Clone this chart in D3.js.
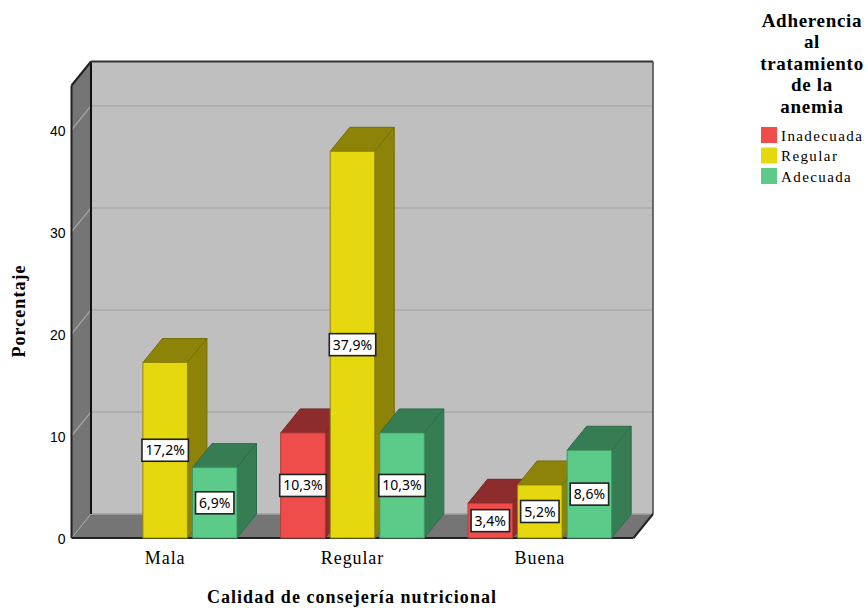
<!DOCTYPE html>
<html lang='en'>
<head>
  <meta charset='UTF-8'>
  <title>Calidad de consejería nutricional</title>
  <style>
  body {
    margin: 0;
    background: #fff;
  }
  svg {
    display: block;
  }
  text {
    font-family: 'Liberation Serif', serif;
    fill: #000;
  }
  .tick text {
    font-family: 'Liberation Sans', sans-serif;
    font-size: 14px;
  }
  .cat {
    font-size: 18px;
    letter-spacing: 0.9px;
  }
  .title {
    font-size: 18px;
    font-weight: bold;
    letter-spacing: 1.05px;
  }
  .legend-title {
    font-size: 19px;
    font-weight: bold;
    letter-spacing: 0.7px;
  }
  .legend-item {
    font-size: 15px;
    letter-spacing: 1.4px;
  }
  .value {
    font-family: 'Noto Sans', sans-serif;
    font-size: 14px;
  }
  </style>
  <script src='https://d3js.org/d3.v7.min.js'></script>
</head>
<body>
  <script>

  var categories = ['Mala', 'Regular', 'Buena'];
  var series = ['Inadecuada', 'Regular', 'Adecuada'];
  var inadecuada = [null, 10.3, 3.4];
  var regular = [17.2, 37.9, 5.2];
  var adecuada = [6.9, 10.3, 8.6];
  var seriesValues = [inadecuada, regular, adecuada];
  var yTicks = [0, 10, 20, 30, 40];
  var legendTitle = ['Adherencia', 'al', 'tratamiento', 'de la', 'anemia'];

  var frontColors = ['#ef4c4c', '#e5d80e', '#5ccb8a'];
  var sideColors = ['#8c2c2c', '#8c8308', '#367d54'];
  var edgeColors = ['#b93a3a', '#8f8608', '#3f9465'];
  var sideEdgeColors = ['#7a2626', '#757006', '#2f6c49'];

  var svg = d3.select('body').append('svg').attr('width', 868).attr('height', 608);

  // depth of the 3D box
  var dx = 19.5;
  var dy = -24;

  var x0 = d3.scaleBand().domain(categories).range([71.5, 633.5]);
  var x1 = d3.scaleBand().domain(d3.range(series.length)).range([0, x0.bandwidth()]).paddingOuter(0.39);
  var y = d3.scaleLinear().domain([0, 44.35]).range([538, 85.5]);

  function line(x1, y1, x2, y2, color, w) {
    svg.append('line')
      .attr('x1', x1).attr('y1', y1)
      .attr('x2', x2).attr('y2', y2)
      .attr('stroke', color)
      .attr('stroke-width', w);
  }

  function poly(points, fill, stroke) {
    svg.append('polygon')
      .attr('points', points.map(function (p) { return p.join(','); }).join(' '))
      .attr('fill', fill)
      .attr('stroke', stroke || 'none');
  }

  // walls and floor

  var left = x0.range()[0];
  var right = x0.range()[1];
  var bottom = y(0);
  var top3d = y.range()[1];

  poly([[left + dx, top3d + dy], [right + dx, top3d + dy], [right + dx, bottom + dy], [left + dx, bottom + dy]], '#bfbfbf');
  poly([[left, top3d], [left + dx, top3d + dy], [left + dx, bottom + dy], [left, bottom]], '#757575');
  poly([[left, bottom], [left + dx, bottom + dy], [right + dx, bottom + dy], [right, bottom]], '#757575');

  // gridlines run along the back wall and down the side wall

  yTicks.slice(1).forEach(function (t) {
    line(left, y(t), left + dx, y(t) + dy, '#a8a8a8', 1.2);
    line(left + dx, y(t) + dy, right + dx, y(t) + dy, '#aaaaaa', 1.5);
  });

  line(left + dx, bottom + dy, right + dx, bottom + dy, '#a0a0a0', 1.5);
  line(left, bottom, left + dx, bottom + dy, '#a8a8a8', 1);

  line(left, top3d, left, bottom, '#222', 2);
  line(left + dx, top3d + dy, left + dx, bottom + dy, '#111', 2);
  line(left, top3d, left + dx, top3d + dy, '#222', 2);
  line(left + dx, top3d + dy, right + dx, top3d + dy, '#333', 2);
  line(right + dx, top3d + dy, right + dx, bottom + dy, '#444', 1.5);
  line(right, bottom, right + dx, bottom + dy, '#222', 2);
  line(left, bottom, right, bottom, '#222', 2);

  // y axis

  svg.append('g')
    .attr('transform', 'translate(' + (left + 1) + ',1)')
    .call(d3.axisLeft(y).tickValues(yTicks).tickSize(0).tickPadding(7))
    .call(function (g) { g.select('.domain').remove(); });

  // bars, left to right so nearer faces cover the side of the previous bar

  categories.forEach(function (cat, c) {
    series.forEach(function (s, i) {
      var v = seriesValues[i][c];
      if (v === null) return;

      var xa = x0(cat) + x1(i) + 2.5;
      var xb = xa + x1.bandwidth() - 5;
      var yt = y(v);

      poly([[xa, yt], [xa + dx, yt + dy], [xb + dx, yt + dy], [xb, yt]], sideColors[i], sideEdgeColors[i]);
      poly([[xb, yt], [xb + dx, yt + dy], [xb + dx, bottom + dy], [xb, bottom]], sideColors[i], sideEdgeColors[i]);
      poly([[xa, yt], [xb, yt], [xb, bottom], [xa, bottom]], frontColors[i], edgeColors[i]);
    });
  });

  // value labels go on top of every bar

  categories.forEach(function (cat, c) {
    series.forEach(function (s, i) {
      var v = seriesValues[i][c];
      if (v === null) return;

      var cx = x0(cat) + x1(i) + x1.bandwidth() / 2;
      var cy = y(v / 2);
      var box = svg.append('rect');
      var label = svg.append('text')
        .attr('class', 'value')
        .attr('x', cx)
        .attr('y', cy)
        .attr('dy', '0.36em')
        .attr('text-anchor', 'middle')
        .text(v.toFixed(1).replace('.', ',') + '%');
      var w = label.node().getComputedTextLength() + 7;

      box.attr('x', cx - w / 2)
        .attr('y', cy - 11)
        .attr('width', w)
        .attr('height', 22)
        .attr('fill', '#fff')
        .attr('stroke', '#222')
        .attr('stroke-width', 1.6);
    });
  });

  // category and axis labels

  svg.selectAll('.cat')
    .data(categories)
    .enter()
    .append('text')
    .attr('class', 'cat')
    .attr('text-anchor', 'middle')
    .attr('x', function (d) { return x0(d) + x0.bandwidth() / 2; })
    .attr('y', 564)
    .text(function (d) { return d; });

  svg.append('text')
    .attr('class', 'title')
    .attr('text-anchor', 'middle')
    .attr('x', 352)
    .attr('y', 603)
    .text('Calidad de consejería nutricional');

  svg.append('text')
    .attr('class', 'title')
    .attr('text-anchor', 'middle')
    .attr('transform', 'translate(25,311) rotate(-90)')
    .text('Porcentaje');

  // legend

  svg.selectAll('.legend-title')
    .data(legendTitle)
    .enter()
    .append('text')
    .attr('class', 'legend-title')
    .attr('text-anchor', 'middle')
    .attr('x', 812)
    .attr('y', function (d, i) { return 27 + i * 21.4; })
    .text(function (d) { return d; });

  series.forEach(function (s, i) {
    svg.append('rect')
      .attr('x', 761)
      .attr('y', 127 + i * 20.5)
      .attr('width', 16)
      .attr('height', 16)
      .attr('fill', frontColors[i]);

    svg.append('text')
      .attr('class', 'legend-item')
      .attr('x', 781)
      .attr('y', 140.5 + i * 20.5)
      .text(s);
  });
  </script>
</body>
</html>
